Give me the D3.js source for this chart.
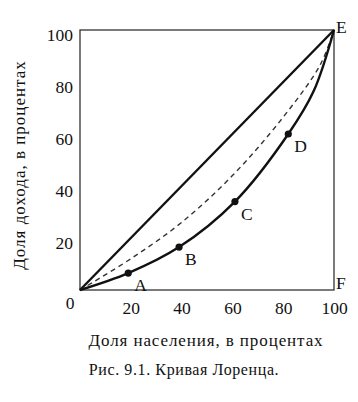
<!DOCTYPE html>
<html><head><meta charset="utf-8">
<script src="https://cdn.jsdelivr.net/npm/d3@7"></script>
<style>
html,body{margin:0;padding:0;background:#fff;}
text{font-family:"Liberation Serif","Times New Roman",serif;fill:#111;}
</style></head>
<body><svg id="c" width="358" height="402"></svg>
<script>
const xTicks = [20, 40, 60, 80, 100];
const yTicks = [20, 40, 60, 80, 100];
const lorenzX = [0, 19, 39, 61, 82, 92, 100];
const lorenzY = [0, 6.5, 16.5, 34, 60, 76.5, 100];
const dashedX = [0, 20, 40, 60, 80, 94.5, 100];
const dashedY = [0, 12, 26, 44, 66.5, 86.5, 100];
const pointNames = ["A", "B", "C", "D"];
const pointX = [19, 39, 61, 82];
const pointY = [6.5, 16.5, 34, 60];
const cornerNames = ["E", "F"];
const cornerX = [100, 100];
const cornerY = [100, 0];

const svg = d3.select("#c");
const x = d3.scaleLinear().domain([0, 100]).range([80, 334]);
const y = d3.scaleLinear().domain([0, 100]).range([290, 30]);

// frame
svg.append("rect").attr("x", x(0)).attr("y", y(100))
  .attr("width", x(100) - x(0)).attr("height", y(0) - y(100))
  .attr("fill", "none").attr("stroke", "#333").attr("stroke-width", 1.3);

// axes (labels only)
const xa = svg.append("g").attr("transform", `translate(0,${y(0) + 8})`)
  .call(d3.axisBottom(x).tickValues(xTicks).tickSize(0).tickPadding(4));
xa.select(".domain").remove();
xa.selectAll("text").attr("font-size", 17.5).style("font-family", '"Liberation Serif",serif').attr("fill", "#111");

const ya = svg.append("g").attr("transform", `translate(${x(0) - 7},5)`)
  .call(d3.axisLeft(y).tickValues(yTicks).tickSize(0).tickPadding(0));
ya.select(".domain").remove();
ya.selectAll("text").attr("font-size", 17.5).style("font-family", '"Liberation Serif",serif').attr("fill", "#111");

svg.append("text").attr("x", x(0) - 10).attr("y", y(0) + 19)
  .attr("text-anchor", "middle").attr("font-size", 17.5).text("0");

// equality diagonal
svg.append("line").attr("x1", x(0)).attr("y1", y(0)).attr("x2", x(100)).attr("y2", y(100))
  .attr("stroke", "#111").attr("stroke-width", 2.4);

const curve = d3.curveCatmullRom.alpha(0.5);

// dashed curve
const dashedData = dashedX.map((v, i) => [v, dashedY[i]]);
svg.append("path").datum(dashedData)
  .attr("d", d3.line().x(d => x(d[0])).y(d => y(d[1])).curve(curve))
  .attr("fill", "none").attr("stroke", "#333").attr("stroke-width", 1.4)
  .attr("stroke-dasharray", "5,4");

// Lorenz curve
const lorenzData = lorenzX.map((v, i) => [v, lorenzY[i]]);
svg.append("path").datum(lorenzData)
  .attr("d", d3.line().x(d => x(d[0])).y(d => y(d[1])).curve(curve))
  .attr("fill", "none").attr("stroke", "#111").attr("stroke-width", 2.4);

// points
const pts = pointNames.map((n, i) => ({n, x: pointX[i], y: pointY[i]}));
svg.selectAll("circle.p").data(pts).enter().append("circle")
  .attr("cx", d => x(d.x)).attr("cy", d => y(d.y)).attr("r", 3.6).attr("fill", "#111");
svg.selectAll("text.p").data(pts).enter().append("text")
  .attr("x", d => x(d.x) + 6).attr("y", d => y(d.y) + 18)
  .attr("font-size", 17.5).text(d => d.n);

// corner labels
const corners = cornerNames.map((n, i) => ({n, x: cornerX[i], y: cornerY[i]}));
svg.selectAll("text.c").data(corners).enter().append("text")
  .attr("x", d => x(d.x) + 2).attr("y", (d, i) => i === 0 ? y(d.y) + 3 : y(d.y) - 1)
  .attr("font-size", 17.5).text(d => d.n);

// axis titles
svg.append("text").attr("transform", `translate(25,${(y(0) + y(100)) / 2 + 5}) rotate(-90)`)
  .attr("text-anchor", "middle").attr("font-size", 17).attr("letter-spacing", 1).text("Доля дохода, в процентах");
svg.append("text").attr("x", 206).attr("y", 346)
  .attr("text-anchor", "middle").attr("font-size", 17).attr("letter-spacing", 0.9).text("Доля населения, в процентах");
svg.append("text").attr("x", 184).attr("y", 375)
  .attr("text-anchor", "middle").attr("font-size", 16).attr("letter-spacing", 0.6).text("Рис. 9.1. Кривая Лоренца.");
</script></body></html>
